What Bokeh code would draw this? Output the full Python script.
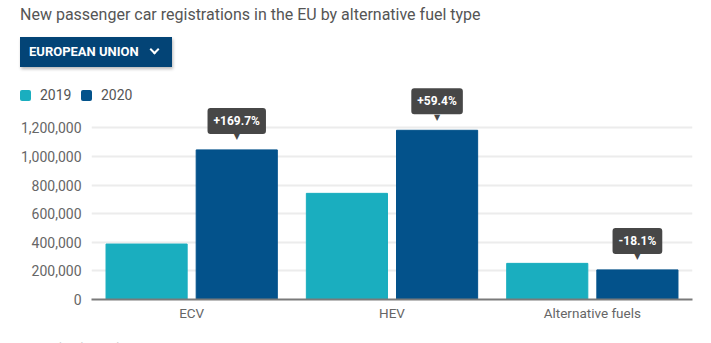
from bokeh.plotting import figure
from bokeh.layouts import column
from bokeh.models import (ColumnDataSource, FactorRange, Range1d, NumeralTickFormatter,
                          FixedTicker, Div)
from bokeh.transform import dodge
from bokeh.core.properties import value
from bokeh.embed import file_html
from bokeh.resources import INLINE

categories = ["ECV", "HEV", "Alternative fuels"]
reg_2019 = [387700, 742000, 252600]
reg_2020 = [1045800, 1183000, 206900]
change_labels = ["+169.7%", "+59.4%", "-18.1%"]
y_ticks = [0, 200000, 400000, 600000, 800000, 1000000, 1200000]
series_labels = ["2019", "2020"]
title_text = "New passenger car registrations in the EU by alternative fuel type"
dropdown_text = "EUROPEAN UNION"
footer_text = "Created with LocalFocus"

C19 = "#1aaebf"
C20 = "#03528b"
TIP = "#474747"
BTN = "#034476"
FONT = "Roboto"

# ---------------- header (title, dropdown button, legend) ----------------
legend_html = ""
for i, (lab, col) in enumerate(zip(series_labels, [C19, C20])):
    left = 20 + i * 61
    legend_html += (
        f'<div style="position:absolute;left:{left}px;top:90px;width:11px;height:11px;'
        f'border-radius:2px;background:{col};"></div>'
        f'<div style="position:absolute;left:{left + 20}px;top:86px;height:18px;'
        f'line-height:18px;font-size:14px;color:#555555;">{lab}</div>'
    )

header_html = f"""
<div style="position:relative;width:711px;height:105px;font-family:{FONT};margin:0;padding:0;">
  <div style="position:absolute;left:20px;top:5px;height:20px;line-height:20px;
              font-size:16px;color:#555555;white-space:nowrap;">{title_text}</div>
  <div style="position:absolute;left:20px;top:37px;width:152px;height:30px;
              background:{BTN};box-shadow:1px 2px 3px rgba(0,0,0,0.28);">
    <div style="position:absolute;left:9px;top:0;height:30px;line-height:30px;
                font-size:13px;font-weight:bold;color:#ffffff;white-space:nowrap;">{dropdown_text}</div>
    <div style="position:absolute;left:131px;top:9px;width:7px;height:7px;box-sizing:border-box;
                border-right:2px solid #ffffff;border-bottom:2px solid #ffffff;
                transform:rotate(45deg);"></div>
  </div>
  {legend_html}
</div>
"""
header = Div(text=header_html, width=711, height=105, margin=0)

# ---------------- main chart ----------------
src = ColumnDataSource(dict(cat=categories, y19=reg_2019, y20=reg_2020,
                            pct=change_labels, ptr=["\u25BC"] * len(categories)))

p = figure(width=711, height=256,
           x_range=FactorRange(factors=categories, range_padding=0),
           y_range=Range1d(0, 1482000),
           output_backend="svg", toolbar_location=None,
           min_border_left=91, min_border_right=19, min_border_top=0, min_border_bottom=44,
           margin=(-18, 0, 0, 0))
p.outline_line_color = None
p.background_fill_color = None
p.border_fill_color = None

p.vbar(x=dodge("cat", -0.225, range=p.x_range), top="y19", width=0.405,
       color=C19, source=src)
p.vbar(x=dodge("cat", 0.225, range=p.x_range), top="y20", width=0.405,
       color=C20, source=src)

p.yaxis.ticker = FixedTicker(ticks=y_ticks)
p.yaxis.formatter = NumeralTickFormatter(format="0,0")
p.yaxis.axis_line_color = None
p.yaxis.major_tick_line_color = None
p.yaxis.minor_tick_line_color = None
p.yaxis.major_tick_out = 0
p.yaxis.minor_tick_out = 0
p.yaxis.major_label_standoff = 10
p.yaxis.major_label_text_font = FONT
p.yaxis.major_label_text_font_size = "14px"
p.yaxis.major_label_text_color = "#666666"

p.xaxis.axis_line_color = "#7a7a7a"
p.xaxis.axis_line_width = 2
p.xaxis.major_tick_line_color = None
p.xaxis.minor_tick_line_color = None
p.xaxis.major_tick_out = 0
p.xaxis.minor_tick_out = 0
p.xaxis.major_label_standoff = 5
p.xaxis.major_label_text_font = FONT
p.xaxis.major_label_text_font_size = "13.5px"
p.xaxis.major_label_text_color = "#666666"

p.xgrid.grid_line_color = None
p.ygrid.grid_line_color = "#ececec"
p.ygrid.grid_line_width = 2

p.text(x=dodge("cat", 0.225, range=p.x_range), y="y20", text="pct", source=src,
       text_align="center", text_baseline="bottom", y_offset=-16,
       text_color="white", text_font_style="bold", text_font_size="12px",
       text_font=value(FONT), background_fill_color=TIP, padding=6, border_radius=3)
p.text(x=dodge("cat", 0.225, range=p.x_range), y="y20", text="ptr", source=src,
       text_align="center", text_baseline="middle", y_offset=-13,
       text_color=TIP, text_font_size="8px", text_font=value("DejaVu Sans"))

# ---------------- footer ----------------
footer = Div(text=f'<div style="font-family:{FONT};font-size:12px;line-height:16px;'
                  f'color:#d0d0d0;padding-left:20px;white-space:nowrap;">{footer_text}</div>',
             width=711, height=16, margin=(-3, 0, 0, 0))

lay = column(header, p, footer, spacing=0)
open("out.html", "w").write(file_html(lay, INLINE))
